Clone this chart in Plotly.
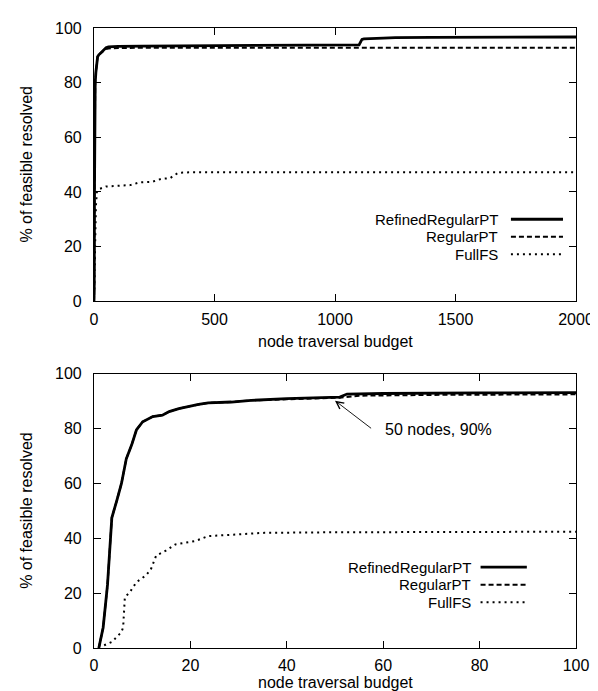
import plotly.graph_objects as go

# ---------------- data ----------------
# Top panel (budget 0..2000)
top_refined_x = [0, 1, 2, 3, 5, 8, 10, 12, 15, 20, 30, 40, 45, 50, 60, 70, 100, 200, 400, 600, 800, 1000, 1100, 1108, 1112, 1120, 1150, 1200, 1250, 1400, 2000]
top_refined_y = [0, 5, 40, 75, 80, 84, 86, 88, 89.5, 90.2, 91, 91.8, 92.3, 92.8, 93.1, 93.2, 93.3, 93.4, 93.5, 93.5, 93.6, 93.7, 93.8, 95.2, 95.8, 96.0, 96.2, 96.3, 96.5, 96.6, 96.7]
top_regular_x = [0, 1, 2, 3, 5, 8, 10, 12, 15, 20, 30, 40, 45, 50, 60, 100, 300, 1000, 2000]
top_regular_y = [0, 5, 40, 75, 80, 84, 86, 88, 89.5, 90.2, 91, 91.6, 92.0, 92.3, 92.5, 92.7, 92.8, 92.8, 92.8]
top_fullfs_x = [0, 2, 5, 8, 12, 20, 50, 100, 150, 190, 240, 280, 315, 335, 350, 400, 1000, 2000]
top_fullfs_y = [0, 10, 25, 35, 40, 41, 42, 42.3, 42.5, 43.5, 43.7, 44.8, 45.0, 46.2, 47.0, 47.2, 47.2, 47.2]

# Bottom panel (budget 0..100)
bot_refined_x = [1, 1.9, 2.8, 3.7, 4.7, 5.7, 6.7, 7.8, 8.8, 10.1, 12.2, 14.2, 15.6, 17.6, 21.7, 23.7, 28.5, 32.6, 40, 45, 51, 52.5, 60, 80, 100]
bot_refined_y = [0, 7.5, 23, 47.5, 53.6, 60, 69, 74, 79.5, 82.5, 84.4, 84.9, 86.2, 87.3, 88.8, 89.4, 89.7, 90.3, 90.9, 91.1, 91.5, 92.6, 92.8, 93.0, 93.1]
bot_regular_x = [1, 1.9, 2.8, 3.7, 4.7, 5.7, 6.7, 7.8, 8.8, 10.1, 12.2, 14.2, 15.6, 17.6, 21.7, 23.7, 28.5, 32.6, 40, 45, 51, 55, 70, 100]
bot_regular_y = [0, 7.5, 23, 47.5, 53.6, 60, 69, 74, 79.5, 82.5, 84.4, 84.9, 86.2, 87.3, 88.8, 89.4, 89.7, 90.3, 90.7, 91.0, 91.3, 92.0, 92.3, 92.5]
bot_fullfs_x = [2.1, 3.7, 4.7, 5.7, 6.05, 6.4, 7.4, 8.8, 10.8, 11.8, 12.9, 14.9, 16.9, 19, 21, 23.7, 28.5, 35.3, 50, 100]
bot_fullfs_y = [1, 2.2, 4, 5.8, 7.6, 18.5, 20.3, 24, 26.5, 28.7, 33.7, 35.5, 37.8, 38.4, 39, 40.8, 41.4, 42.0, 42.2, 42.4]

series_names = ["RefinedRegularPT", "RegularPT", "FullFS"]
top_x_ticks = [0, 500, 1000, 1500, 2000]
bot_x_ticks = [0, 20, 40, 60, 80, 100]
y_ticks = [0, 20, 40, 60, 80, 100]

x_title = "node traversal budget"
y_title = "% of feasible resolved"
note_text = "50 nodes, 90%"
note_x, note_y = 50, 90.2
note_tail_x, note_tail_y = 57.8, 79.7

# ---------------- styling ----------------
FONT = "Liberation Sans, Arial, Helvetica, sans-serif"
FS = 16
LFS = 15
styles = [
    dict(color="black", width=2.8, dash="solid"),
    dict(color="black", width=2.0, dash="5px,3px"),
    dict(color="black", width=2.0, dash="2px,4px"),
]

fig = go.Figure()

top_data = [(top_refined_x, top_refined_y), (top_regular_x, top_regular_y), (top_fullfs_x, top_fullfs_y)]
bot_data = [(bot_refined_x, bot_refined_y), (bot_regular_x, bot_regular_y), (bot_fullfs_x, bot_fullfs_y)]

for (xs, ys), name, st in zip(top_data, series_names, styles):
    fig.add_trace(go.Scatter(x=xs, y=ys, mode="lines", name=name, line=st,
                             xaxis="x", yaxis="y", showlegend=False))
for (xs, ys), name, st in zip(bot_data, series_names, styles):
    fig.add_trace(go.Scatter(x=xs, y=ys, mode="lines", name=name, line=st,
                             xaxis="x2", yaxis="y2", showlegend=False))

axis_common = dict(showline=True, linecolor="black", linewidth=1.2, mirror="allticks",
                   ticks="inside", ticklen=7, tickwidth=1, tickcolor="black",
                   showgrid=False, zeroline=False,
                   tickfont=dict(family=FONT, size=FS, color="black"))

fig.update_layout(
    width=598, height=691,
    margin=dict(l=86, r=20, t=17, b=51),
    paper_bgcolor="white", plot_bgcolor="white",
    font=dict(family=FONT, size=FS, color="black"),
    xaxis=dict(domain=[0, 1], anchor="y", range=[0, 2000], tickvals=top_x_ticks,
               ticklabelstandoff=3, **axis_common),
    yaxis=dict(domain=[0.5593, 1.0], anchor="x", range=[0, 100], tickvals=y_ticks,
               ticklabelstandoff=8, **axis_common),
    xaxis2=dict(domain=[0, 1], anchor="y2", range=[0, 100], tickvals=bot_x_ticks,
                ticklabelstandoff=3, **axis_common),
    yaxis2=dict(domain=[0, 0.4423], anchor="x2", range=[0, 100], tickvals=y_ticks,
                ticklabelstandoff=8, **axis_common),
)

annotations = []
shapes = []

# axis titles
for yc in [0.7797, 0.2212]:
    annotations.append(dict(text=y_title, xref="paper", yref="paper", x=-0.139, y=yc,
                            xanchor="center", yanchor="middle", textangle=-90,
                            showarrow=False, font=dict(family=FONT, size=FS)))
annotations.append(dict(text=x_title, xref="x domain", yref="y domain", x=0.5, y=0,
                        yshift=-40, xanchor="center", yanchor="middle", showarrow=False,
                        font=dict(family=FONT, size=FS)))
annotations.append(dict(text=x_title, xref="x2 domain", yref="y2 domain", x=0.5, y=0,
                        yshift=-34, xanchor="center", yanchor="middle", showarrow=False,
                        font=dict(family=FONT, size=FS)))

# legends (gnuplot style: text right-aligned, sample to the right)
legend_cfg = [
    ("x domain", "y domain", 0.843, 0.865, 0.973, [0.300, 0.236, 0.172]),
    ("x2 domain", "y2 domain", 0.786, 0.802, 0.898, [0.295, 0.231, 0.167]),
]
for xr, yr, tx, lx0, lx1, rows in legend_cfg:
    for name, st, ry in zip(series_names, styles, rows):
        annotations.append(dict(text=name, xref=xr, yref=yr, x=tx, y=ry,
                                xanchor="right", yanchor="middle", showarrow=False,
                                font=dict(family=FONT, size=LFS)))
        shapes.append(dict(type="line", xref=xr, yref=yr, x0=lx0, x1=lx1, y0=ry, y1=ry,
                           line=st))

# callout arrow in bottom panel
annotations.append(dict(text="", x=note_x, y=note_y, xref="x2", yref="y2",
                        ax=note_tail_x, ay=note_tail_y, axref="x2", ayref="y2",
                        showarrow=True, arrowhead=5, arrowsize=1.6, arrowwidth=0.9,
                        arrowcolor="black", standoff=0, startstandoff=0))
annotations.append(dict(text=note_text, x=note_tail_x, y=note_tail_y, xref="x2", yref="y2",
                        xanchor="left", yanchor="middle", xshift=10, showarrow=False,
                        font=dict(family=FONT, size=FS)))

fig.update_layout(annotations=annotations, shapes=shapes)
fig.write_html("out.html")
